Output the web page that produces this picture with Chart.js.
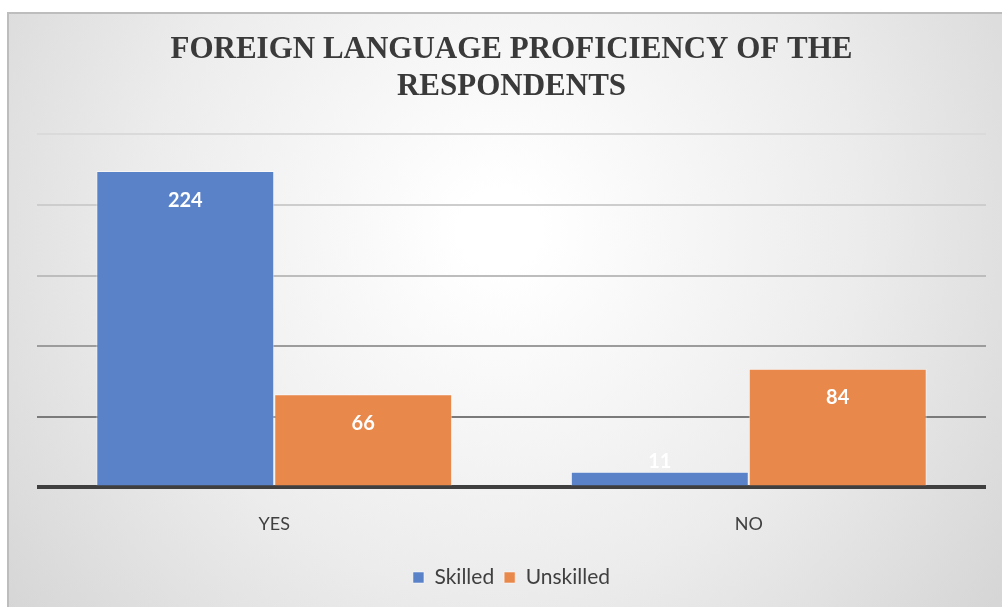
<!DOCTYPE html>
<html>
<head>
<meta charset="utf-8">
<script src="https://cdn.jsdelivr.net/npm/chart.js@4.4.0/dist/chart.umd.min.js"></script>
<style>
  html, body { margin: 0; padding: 0; background: #fff; }
  #wrap { width: 1002px; height: 607px; }
</style>
</head>
<body>
<div id="wrap"><canvas id="chart_canvas" width="1002" height="607"></canvas></div>
<script>
// données
const categories = ['YES', 'NO']
const skilled = [224, 11]
const unskilled = [66, 84]
const yMax = 250
const yStep = 50

// fond dégradé + cadre
const backgroundPlugin = {
    id: 'bgFrame',
    beforeDraw(chart) {
        const c = chart.ctx
        const w = chart.width, h = chart.height
        c.save()
        const g = c.createRadialGradient(500, 230, 40, 500, 230, 620)
        g.addColorStop(0, '#ffffff')
        g.addColorStop(0.55, '#ececec')
        g.addColorStop(1, '#d6d6d6')
        c.fillStyle = g
        c.fillRect(8, 13, w - 8, h - 13)
        c.strokeStyle = '#bdbdbd'
        c.lineWidth = 2
        c.beginPath()
        c.moveTo(8, h)
        c.lineTo(8, 13)
        c.lineTo(w, 13)
        c.stroke()
        c.restore()
    }
}

// étiquettes de valeur
const valueLabels = {
    id: 'valueLabels',
    afterDatasetsDraw(chart) {
        const c = chart.ctx
        c.save()
        c.fillStyle = '#ffffff'
        c.font = 'bold 20px Lato'
        c.textAlign = 'center'
        c.textBaseline = 'middle'
        chart.data.datasets.forEach((ds, i) => {
            chart.getDatasetMeta(i).data.forEach((bar, j) => {
                const hgt = bar.base - bar.y
                const y = hgt > 40 ? bar.y + 29 : bar.y - 10
                c.fillText(ds.data[j], bar.x, y)
            })
        })
        c.restore()
    }
}

const gridColors = {0: '#3f3f3f', 50: '#7a7a7a', 100: '#9c9c9c', 150: '#bdbdbd', 200: '#cdcdcd', 250: '#dadada'}

const config = {
    type: 'bar',
    data: {
        labels: categories,
        datasets: [{
            label: 'Skilled',
            data: skilled,
            backgroundColor: '#5a82c9',
            borderColor: 'rgba(255,255,255,0.5)',
            borderWidth: 1,
            categoryPercentage: 0.75,
            barPercentage: 1
        }, {
            label: 'Unskilled',
            data: unskilled,
            backgroundColor: '#e9884b',
            borderColor: 'rgba(255,255,255,0.5)',
            borderWidth: 1,
            categoryPercentage: 0.75,
            barPercentage: 1
        }]
    },
    options: {
        responsive: false,
        animation: false,
        layout: {
            padding: {top: 13, left: 37, right: 16, bottom: 9}
        },
        scales: {
            x: {
                grid: {display: false},
                border: {display: false},
                afterFit: (scale) => { scale.height += 4 },
                ticks: {
                    color: '#404040',
                    padding: 18,
                    font: {family: 'Lato', size: 18}
                }
            },
            y: {
                min: 0,
                max: yMax,
                ticks: {display: false, stepSize: yStep},
                border: {display: false},
                grid: {
                    drawTicks: false,
                    color: (ctx) => gridColors[ctx.tick.value] || '#cccccc',
                    lineWidth: (ctx) => ctx.tick.value === 0 ? 4 : 2
                }
            }
        },
        plugins: {
            title: {
                display: true,
                text: ['FOREIGN LANGUAGE PROFICIENCY OF THE', 'RESPONDENTS'],
                color: '#3a3a3a',
                font: {family: 'Liberation Serif', size: 31, weight: 'bold', lineHeight: 1.2},
                padding: {top: 18, bottom: 29}
            },
            legend: {
                position: 'bottom',
                labels: {
                    color: '#404040',
                    font: {family: 'Lato', size: 21},
                    boxWidth: 11,
                    boxHeight: 11,
                    padding: 10
                }
            },
            tooltip: {enabled: false}
        }
    },
    plugins: [backgroundPlugin, valueLabels]
}

new Chart(document.getElementById('chart_canvas').getContext('2d'), config)
</script>
</body>
</html>
